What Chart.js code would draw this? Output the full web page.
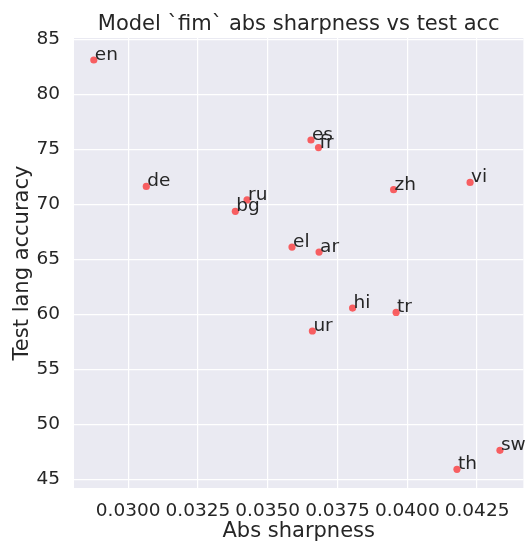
<!DOCTYPE html>
<html>
<head>
<meta charset="utf-8">
<script src="https://cdn.jsdelivr.net/npm/chart.js@4"></script>
<style>
  html, body { margin: 0; padding: 0; background: #fff; }
  canvas { display: block; }
</style>
</head>
<body>
<canvas id="chart" width="527" height="544"></canvas>
<script>
// Languages with their abs sharpness (x) and test accuracy (y)
const langs = ['en', 'es', 'fr', 'de', 'vi', 'zh', 'ru', 'bg', 'el', 'ar', 'hi', 'tr', 'ur', 'th', 'sw'];
const sharpness = [0.02877, 0.03655, 0.03682, 0.03065, 0.04225, 0.03951, 0.03426, 0.03384, 0.03587, 0.03684, 0.03804, 0.0396, 0.0366, 0.04178, 0.04332];
const accuracy = [83.1, 75.83, 75.14, 71.61, 71.97, 71.31, 70.38, 69.35, 66.1, 65.64, 60.55, 60.16, 58.47, 45.9, 47.62];

const xTicks = [0.03, 0.0325, 0.035, 0.0375, 0.04, 0.0425];
const yTicks = [45, 50, 55, 60, 65, 70, 75, 80, 85];

const TITLE = 'Model `fim` abs sharpness vs test acc';
const TEXT = '#262626';
const FONT = "'DejaVu Sans', sans-serif";

const points = sharpness.map((x, i) => ({ x, y: accuracy[i] }));

// seaborn-ish grey plot background
const plotBackground = {
    id: 'plotBackground',
    beforeDraw(chart) {
        const { ctx, chartArea: a } = chart;
        ctx.save();
        ctx.fillStyle = '#EAEAF2';
        ctx.fillRect(a.left, a.top, a.right - a.left, a.bottom - a.top);
        ctx.restore();
    },
};

// title centred over the axes, not the canvas (matplotlib does it that way)
const axesTitle = {
    id: 'axesTitle',
    afterDraw(chart) {
        const { ctx, chartArea: a } = chart;
        ctx.save();
        ctx.font = `21px ${FONT}`;
        ctx.fillStyle = TEXT;
        ctx.textAlign = 'center';
        ctx.textBaseline = 'alphabetic';
        ctx.fillText(TITLE, (a.left + a.right) / 2, 30);
        ctx.restore();
    },
};

// text next to each dot, like plt.annotate
const pointLabels = {
    id: 'pointLabels',
    afterDatasetsDraw(chart) {
        const { ctx } = chart;
        const meta = chart.getDatasetMeta(0);
        ctx.save();
        ctx.font = `18.5px ${FONT}`;
        ctx.fillStyle = TEXT;
        ctx.textAlign = 'left';
        ctx.textBaseline = 'alphabetic';
        meta.data.forEach((el, i) => {
            ctx.fillText(langs[i], el.x + 1, el.y);
        });
        ctx.restore();
    },
};

new Chart(document.getElementById('chart'), {
    type: 'scatter',
    data: {
        datasets: [{
            data: points,
            backgroundColor: 'rgba(255, 0, 0, 0.6)',
            borderWidth: 0,
            pointRadius: 3.6,
            pointHoverRadius: 3.6,
        }],
    },
    options: {
        responsive: false,
        devicePixelRatio: 1,
        animation: false,
        layout: { padding: { left: 0, right: 0, top: 38, bottom: 0 } },
        plugins: {
            legend: { display: false },
            tooltip: { enabled: false },
            title: { display: false },
        },
        scales: {
            x: {
                type: 'linear',
                min: 0.02806,
                max: 0.04416,
                afterBuildTicks: (s) => { s.ticks = xTicks.map((v) => ({ value: v })); },
                afterFit: (s) => { s.height = 56; },
                ticks: {
                    color: TEXT,
                    font: { family: FONT, size: 18.5 },
                    padding: 12,
                    maxRotation: 0,
                    autoSkip: false,
                    callback: (v) => v.toFixed(4),
                },
                grid: { color: '#FFFFFF', lineWidth: 1.2, drawTicks: false },
                border: { display: false },
                title: {
                    display: true,
                    text: 'Abs sharpness',
                    color: TEXT,
                    font: { family: FONT, size: 21, lineHeight: 1.2 },
                    padding: { top: 0, bottom: 0 },
                },
            },
            y: {
                min: 44.2,
                max: 85.1,
                afterBuildTicks: (s) => { s.ticks = yTicks.map((v) => ({ value: v })); },
                afterFit: (s) => { s.width = 74; },
                ticks: {
                    color: TEXT,
                    font: { family: FONT, size: 18.5 },
                    padding: 14,
                    autoSkip: false,
                },
                grid: { color: '#FFFFFF', lineWidth: 1.2, drawTicks: false },
                border: { display: false },
                title: {
                    display: true,
                    text: 'Test lang accuracy',
                    color: TEXT,
                    font: { family: FONT, size: 21, lineHeight: 1.2 },
                    padding: { top: 10, bottom: 0 },
                },
            },
        },
    },
    plugins: [plotBackground, axesTitle, pointLabels],
});
</script>
</body>
</html>
